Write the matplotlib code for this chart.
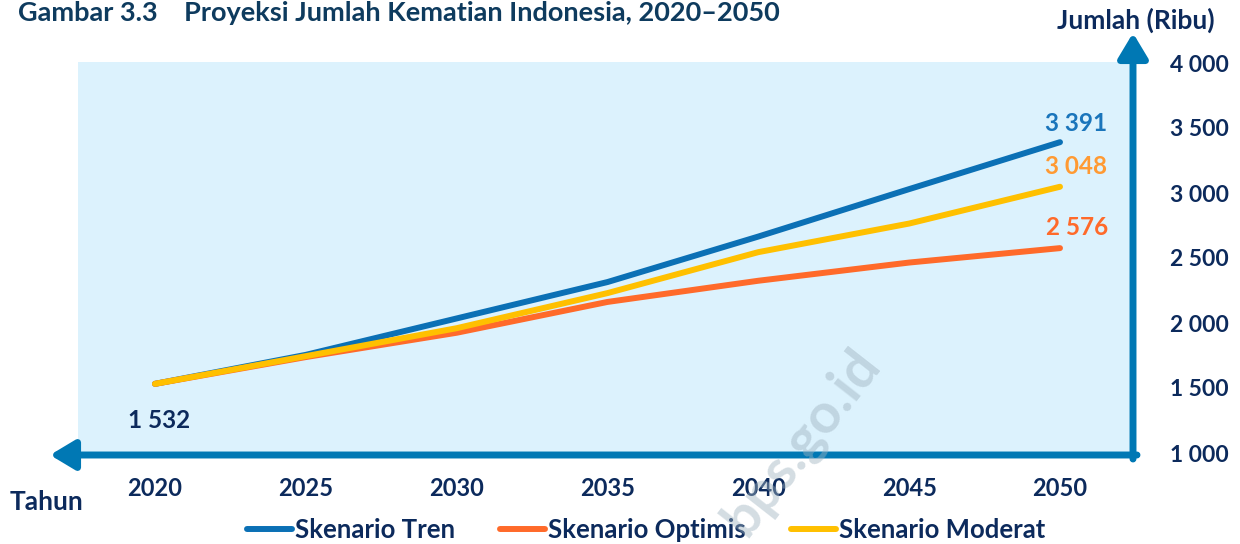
import matplotlib.pyplot as plt

plt.rcParams['font.family'] = ['Lato', 'DejaVu Sans']
plt.rcParams['font.weight'] = 'bold'

tahun = [2020, 2025, 2030, 2035, 2040, 2045, 2050]
tren = [1532, 1755, 2035, 2315, 2665, 3030, 3391]
optimis = [1532, 1738, 1925, 2162, 2325, 2465, 2576]
moderat = [1532, 1745, 1960, 2230, 2545, 2765, 3048]
y_ticks = [1000, 1500, 2000, 2500, 3000, 3500, 4000]
x_ticks = [2020, 2025, 2030, 2035, 2040, 2045, 2050]

navy = '#0c2a5c'
biru_axis = '#0078b4'
c_tren = '#0b70b5'
c_opt = '#ff6a2a'
c_mod = '#ffc000'

W, H = 1240, 544
fig = plt.figure(figsize=(W / 100, H / 100), dpi=100)
# posisi axes dalam piksel gambar
left, right, top, bottom = 78, 1133, 62, 455
ax = fig.add_axes([left / W, 1 - bottom / H, (right - left) / W, (bottom - top) / H])
ax.set_facecolor('#dcf2fd')

px_year = (1060 - 155) / 30
ax.set_xlim(2020 - (155 - left) / px_year, 2050 + (right - 1060) / px_year)
py = (453 - 63) / 3000
ax.set_ylim(1000 - (bottom - 453) / py, 4000 + (63 - top) / py)

for s in ax.spines.values():
    s.set_visible(False)

ax.plot(tahun, tren, color=c_tren, lw=4.3, solid_capstyle='round', label='Skenario Tren', zorder=3)
ax.plot(tahun, optimis, color=c_opt, lw=4.3, solid_capstyle='round', label='Skenario Optimis', zorder=3)
ax.plot(tahun, moderat, color=c_mod, lw=4.3, solid_capstyle='round', label='Skenario Moderat', zorder=4)

ax.yaxis.tick_right()
ax.set_yticks(y_ticks)
ax.set_yticklabels([f'{v:,}'.replace(',', ' ') for v in y_ticks])
ax.set_xticks(x_ticks)
ax.set_xticklabels([str(v) for v in x_ticks])
ax.tick_params(axis='y', length=0, pad=27, labelsize=16.5, labelcolor=navy)
ax.tick_params(axis='x', length=0, pad=16, labelsize=17, labelcolor=navy)
for lab in ax.get_yticklabels():
    lab.set_horizontalalignment('left')

# label nilai
ax.annotate('3 391', (2050, tren[-1]), xytext=(47, 19), textcoords='offset pixels',
            ha='right', va='center', fontsize=17.5, color='#1a75bb')
ax.annotate('3 048', (2050, moderat[-1]), xytext=(47, 20), textcoords='offset pixels',
            ha='right', va='center', fontsize=17.5, color='#ff9a33')
ax.annotate('2 576', (2050, optimis[-1]), xytext=(48, 21), textcoords='offset pixels',
            ha='right', va='center', fontsize=17.5, color=c_opt)
ax.annotate('1 532', (2020, tren[0]), xytext=(4, -37), textcoords='offset pixels',
            ha='center', va='center', fontsize=17.5, color=navy)

# panah sumbu
ax.annotate('', xy=(50, H - 455), xytext=(1137, H - 455), xycoords='figure pixels',
            textcoords='figure pixels',
            arrowprops=dict(arrowstyle='-|>,head_length=0.75,head_width=0.45', lw=5,
                            color=biru_axis, shrinkA=0, shrinkB=0, mutation_scale=20))
ax.annotate('', xy=(1133, H - 33), xytext=(1133, H - 459), xycoords='figure pixels',
            textcoords='figure pixels',
            arrowprops=dict(arrowstyle='-|>,head_length=0.75,head_width=0.45', lw=5,
                            color=biru_axis, shrinkA=0, shrinkB=0, mutation_scale=20))

fig.text(18 / W, 1 - 13 / H, 'Gambar 3.3    Proyeksi Jumlah Kematian Indonesia, 2020–2050',
         fontsize=19.5, color='#0e3b5e', ha='left', va='center')
fig.text(1215 / W, 1 - 20 / H, 'Jumlah (Ribu)', fontsize=19, color=navy, ha='right', va='center')
fig.text(10 / W, 1 - 502 / H, 'Tahun', fontsize=19, color=navy, ha='left', va='center')

# watermark
fig.text(802 / W, 1 - 442 / H, 'bps.go.id', fontsize=40, color='#9fb3c0', alpha=0.45,
         rotation=52, ha='center', va='center', zorder=10)

fig.legend(loc='center', bbox_to_anchor=(646 / W, 1 - 530 / H), ncol=3, frameon=False,
           fontsize=18.5, labelcolor=navy, handlelength=1.75, handletextpad=0.12,
           columnspacing=1.75, borderaxespad=0)

fig.savefig('out.png', dpi=100)
